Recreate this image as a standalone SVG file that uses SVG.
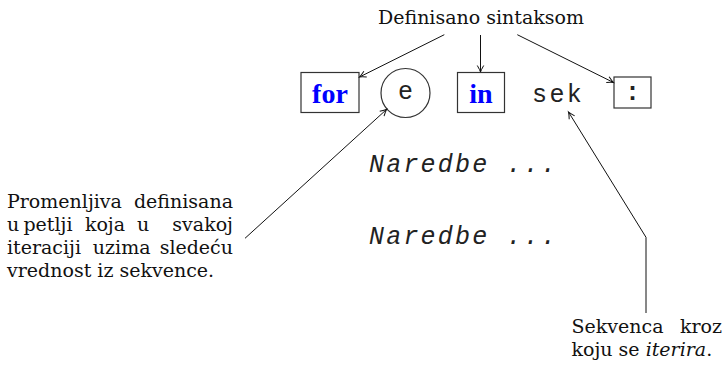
<svg xmlns="http://www.w3.org/2000/svg" width="725" height="370" viewBox="0 0 725 370">
<style>
.ser{font-family:"DejaVu Serif","Liberation Serif",serif;font-size:19px;fill:#111}
.kw{font-family:"Liberation Serif","DejaVu Serif",serif;font-weight:bold;font-size:28px;fill:#0000ff}
.mono{font-family:"Liberation Mono","DejaVu Sans Mono",monospace;font-size:25px;fill:#222}
.box{fill:#fff;stroke:#333;stroke-width:1.2}
.con{fill:none;stroke:#111;stroke-width:1}
</style>
<defs>
<marker id="ah" viewBox="-8 -5 10 10" markerWidth="10" markerHeight="10" refX="0" refY="0" orient="auto" markerUnits="userSpaceOnUse">
<path d="M-6.5,-3.2 Q-2,-0.6 0,0 Q-2,0.6 -6.5,3.2" fill="none" stroke="#111" stroke-width="1"/>
</marker>
</defs>
<rect width="725" height="370" fill="#fff"/>

<g id="header"><text class="ser" x="481" y="24" text-anchor="middle">Definisano sintaksom</text></g>

<g id="for"><rect class="box" x="301" y="72.5" width="58" height="40"/><text class="kw" x="330" y="103" text-anchor="middle">for</text></g>
<g id="e"><circle class="box" cx="405.5" cy="93" r="24.5"/><text class="mono" x="405.5" y="99" text-anchor="middle">e</text></g>
<g id="in"><rect class="box" x="457.5" y="72.5" width="47" height="40"/><text class="kw" x="481" y="103" text-anchor="middle">in</text></g>
<g id="sek"><text class="mono" x="532" y="102" letter-spacing="2.4">sek</text></g>
<g id="colon"><rect class="box" x="614" y="77" width="37" height="31"/><text class="mono" x="632.5" y="100" text-anchor="middle" font-weight="bold">:</text></g>

<g id="body">
<text class="mono" x="369" y="172" font-style="italic" letter-spacing="2.2">Naredbe ...</text>
<text class="mono" x="369" y="244" font-style="italic" letter-spacing="2.2">Naredbe ...</text>
</g>

<g id="note-var" class="ser">
<text x="7" y="207.5">Promenljiva</text><text x="233" y="207.5" text-anchor="end">definisana</text>
<text x="7" y="230.5">u</text><text x="48" y="230.5" text-anchor="middle">petlji</text><text x="105" y="230.5" text-anchor="middle">koja</text><text x="143" y="230.5" text-anchor="middle">u</text><text x="233" y="230.5" text-anchor="end">svakoj</text>
<text x="7" y="253.5">iteraciji</text><text x="121.7" y="253.5" text-anchor="middle">uzima</text><text x="233" y="253.5" text-anchor="end">sledeću</text>
<text x="7" y="276.5">vrednost iz sekvence.</text>
</g>

<g id="note-seq" class="ser">
<text x="571.5" y="333">Sekvenca</text><text x="722" y="333" text-anchor="end">kroz</text>
<text x="571.5" y="356">koju se <tspan font-style="italic">iterira</tspan>.</text>
</g>

<g id="connectors" class="con">
<line x1="444.3" y1="34.7" x2="359.5" y2="77" marker-end="url(#ah)"/>
<line x1="480.5" y1="35" x2="480.5" y2="72" marker-end="url(#ah)"/>
<line x1="517.3" y1="34.7" x2="613.5" y2="82.5" marker-end="url(#ah)"/>
<line x1="245" y1="238.3" x2="386.7" y2="109.3" marker-end="url(#ah)"/>
<polyline points="646,313 646,237.3 568.5,112" marker-end="url(#ah)"/>
</g>
</svg>
